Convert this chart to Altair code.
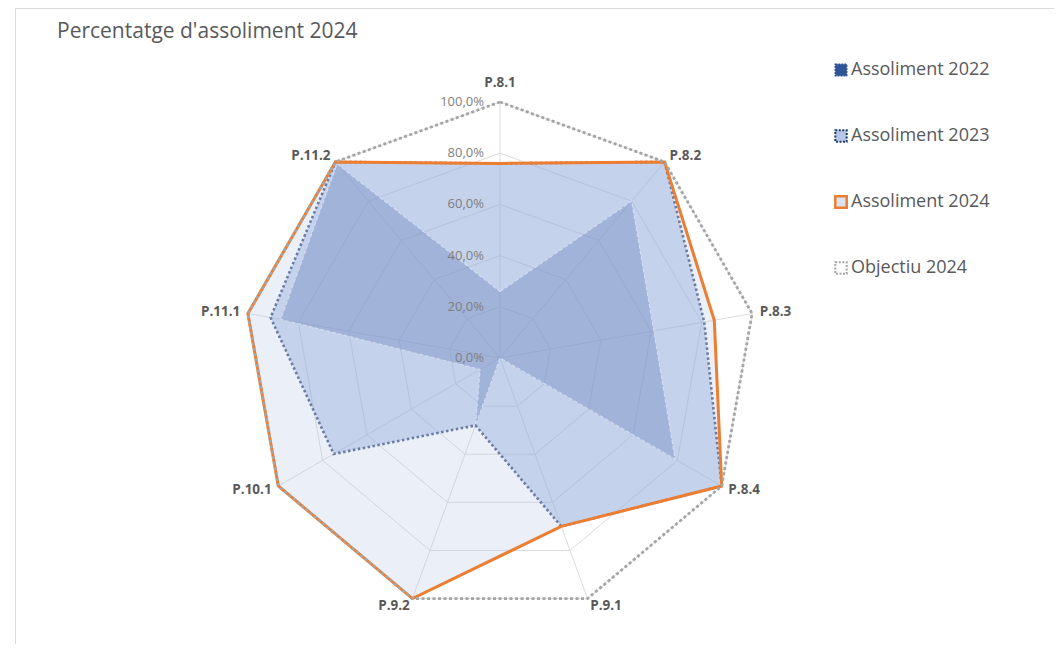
import altair as alt
import pandas as pd

# ---------------- data ----------------
categories = ["P.8.1", "P.8.2", "P.8.3", "P.8.4", "P.9.1", "P.9.2", "P.10.1", "P.11.1", "P.11.2"]
series_names = ["Assoliment 2022", "Assoliment 2023", "Assoliment 2024", "Objectiu 2024"]
v2022 = [0.26, 0.80, 0.61, 0.79, 0.00, 0.28, 0.09, 0.87, 0.99]
v2023 = [0.76, 1.00, 0.81, 1.00, 0.70, 0.28, 0.75, 0.91, 1.00]
v2024 = [0.76, 1.00, 0.85, 1.00, 0.70, 1.00, 1.00, 1.00, 1.00]
vobj = [1.00, 1.00, 1.00, 1.00, 1.00, 1.00, 1.00, 1.00, 1.00]
ring_levels = [0.2, 0.4, 0.6, 0.8, 1.0]
tick_values = [0.0, 0.2, 0.4, 0.6, 0.8, 1.0]
tick_labels = ["0,0%", "20,0%", "40,0%", "60,0%", "80,0%", "100,0%"]
title_text = "Percentatge d'assoliment 2024"

N = len(categories)

rows = []
for name, vals in zip(series_names, [v2022, v2023, v2024, vobj]):
    for i, (c, v) in enumerate(zip(categories, vals)):
        rows.append({"series": name, "cat": c, "i": i, "v": v})
df = pd.DataFrame(rows)

grid = pd.DataFrame([{"level": lv, "i": i, "v": lv} for lv in ring_levels for i in range(N)])
spokes = pd.DataFrame([{"i": i, "v": 1.0} for i in range(N)])
ticks = pd.DataFrame({"v": tick_values, "label": tick_labels})
cats = pd.DataFrame({"cat": categories, "i": list(range(N))})

# ---------------- layout ----------------
W, H = 1046, 636
R = 256.0
CX, CY = 492.0, 350.0
xs = alt.Scale(domain=[-CX / R, (W - CX) / R], nice=False, zero=False)
ys = alt.Scale(domain=[-(H - CY) / R, CY / R], nice=False, zero=False)

FONT = "Open Sans"
TXT = "#595959"

def polar(ch, r="datum.v"):
    return ch.transform_calculate(
        px=f"{r} * sin(2 * PI * datum.i / {N})",
        py=f"{r} * cos(2 * PI * datum.i / {N})",
    )

def xy():
    return dict(
        x=alt.X("px:Q", scale=xs, axis=None),
        y=alt.Y("py:Q", scale=ys, axis=None),
    )

# frame
frame = alt.Chart(pd.DataFrame({"a": [0]})).mark_rect(
    fill=None, stroke="#D9D9D9", strokeWidth=1
).encode(x=alt.value(7.5), x2=alt.value(1052), y=alt.value(0.5), y2=alt.value(700))

# grid rings
rings = polar(alt.Chart(grid)).mark_line(
    interpolate="linear-closed", stroke="#DCDCDC", strokeWidth=1
).encode(**xy(), detail="level:N", order="i:Q")

spoke = polar(alt.Chart(spokes)).transform_calculate(zero="0").mark_rule(
    stroke="#DCDCDC", strokeWidth=1
).encode(
    x=alt.X("zero:Q", scale=xs, axis=None),
    y=alt.Y("zero:Q", scale=ys, axis=None),
    x2="px:Q",
    y2="py:Q",
)

def series_layer(name, **mk):
    return polar(alt.Chart(df).transform_filter(alt.datum.series == name)).mark_line(
        interpolate="linear-closed", **mk
    ).encode(**xy(), order="i:Q")

fill24 = series_layer("Assoliment 2024", fill="#B4C7E7", fillOpacity=0.28, strokeOpacity=0)
fill23 = series_layer("Assoliment 2023", fill="#8FAADC", fillOpacity=0.42, strokeOpacity=0)
fill22 = series_layer("Assoliment 2022", fill="#6F87BF", fillOpacity=0.42, strokeOpacity=0)

line22 = series_layer("Assoliment 2022", stroke="#D2DCF0", strokeWidth=1.2, strokeDash=[4, 2])
line23 = series_layer("Assoliment 2023", stroke="#6B7CA3", strokeWidth=2.6, strokeDash=[2.5, 2.5])
line24 = series_layer("Assoliment 2024", stroke="#ED7D31", strokeWidth=3)
lineobj = series_layer("Objectiu 2024", stroke="#A5A5A5", strokeWidth=2.8, strokeDash=[3, 2.5])

# radial tick labels
tick_txt = alt.Chart(ticks).transform_calculate(zero="0").mark_text(
    align="right", baseline="middle", dx=-16, font=FONT, fontSize=13, color="#7F7F7F"
).encode(
    x=alt.X("zero:Q", scale=xs, axis=None),
    y=alt.Y("v:Q", scale=ys, axis=None),
    text="label:N",
)

# category labels
def cat_layer(filt, **mk):
    return polar(alt.Chart(cats).transform_filter(filt), r="1.03").mark_text(
        font=FONT, fontSize=13.5, fontWeight="bold", color=TXT, **mk
    ).encode(**xy(), text="cat:N")

cat_top = cat_layer(alt.datum.i == 0, align="center", baseline="bottom", dy=-4)
cat_right = cat_layer((alt.datum.i >= 1) & (alt.datum.i <= 4), align="left", baseline="middle")
cat_left = cat_layer(alt.datum.i >= 5, align="right", baseline="middle")

# title
title = alt.Chart(pd.DataFrame({"t": [title_text]})).mark_text(
    align="left", baseline="middle", font=FONT, fontSize=21, color=TXT
).encode(x=alt.value(49), y=alt.value(24), text="t:N")

# legend
one = pd.DataFrame({"a": [0]})
leg_y = [62, 128, 194, 260]
leg_styles = [
    dict(fill="#2F5597", stroke="#2F5597", strokeWidth=1.5, strokeDash=[2, 1]),
    dict(fill="#B4C7E7", stroke="#1F3864", strokeWidth=2, strokeDash=[2, 1.5]),
    dict(fill="#DAE3F3", stroke="#ED7D31", strokeWidth=2.5),
    dict(fill="#FFFFFF", stroke="#A5A5A5", strokeWidth=2, strokeDash=[2, 1.5]),
]
legend_layers = []
for name, yy, st in zip(series_names, leg_y, leg_styles):
    legend_layers.append(
        alt.Chart(one).mark_square(size=130, opacity=1, **st).encode(
            x=alt.value(833), y=alt.value(yy)
        )
    )
    legend_layers.append(
        alt.Chart(pd.DataFrame({"t": [name]})).mark_text(
            align="left", baseline="middle", font=FONT, fontSize=18, color=TXT
        ).encode(x=alt.value(843), y=alt.value(yy), text="t:N")
    )

chart = alt.layer(
    frame, rings, spoke,
    fill24, fill23, fill22,
    line22, line23, line24, lineobj,
    tick_txt, cat_top, cat_right, cat_left,
    title, *legend_layers,
).properties(
    width=W, height=H, padding=0,
    autosize=alt.AutoSizeParams(type="none"),
).configure_view(stroke=None)

chart.save("out.html", embed_options={"renderer": "svg", "actions": False})
